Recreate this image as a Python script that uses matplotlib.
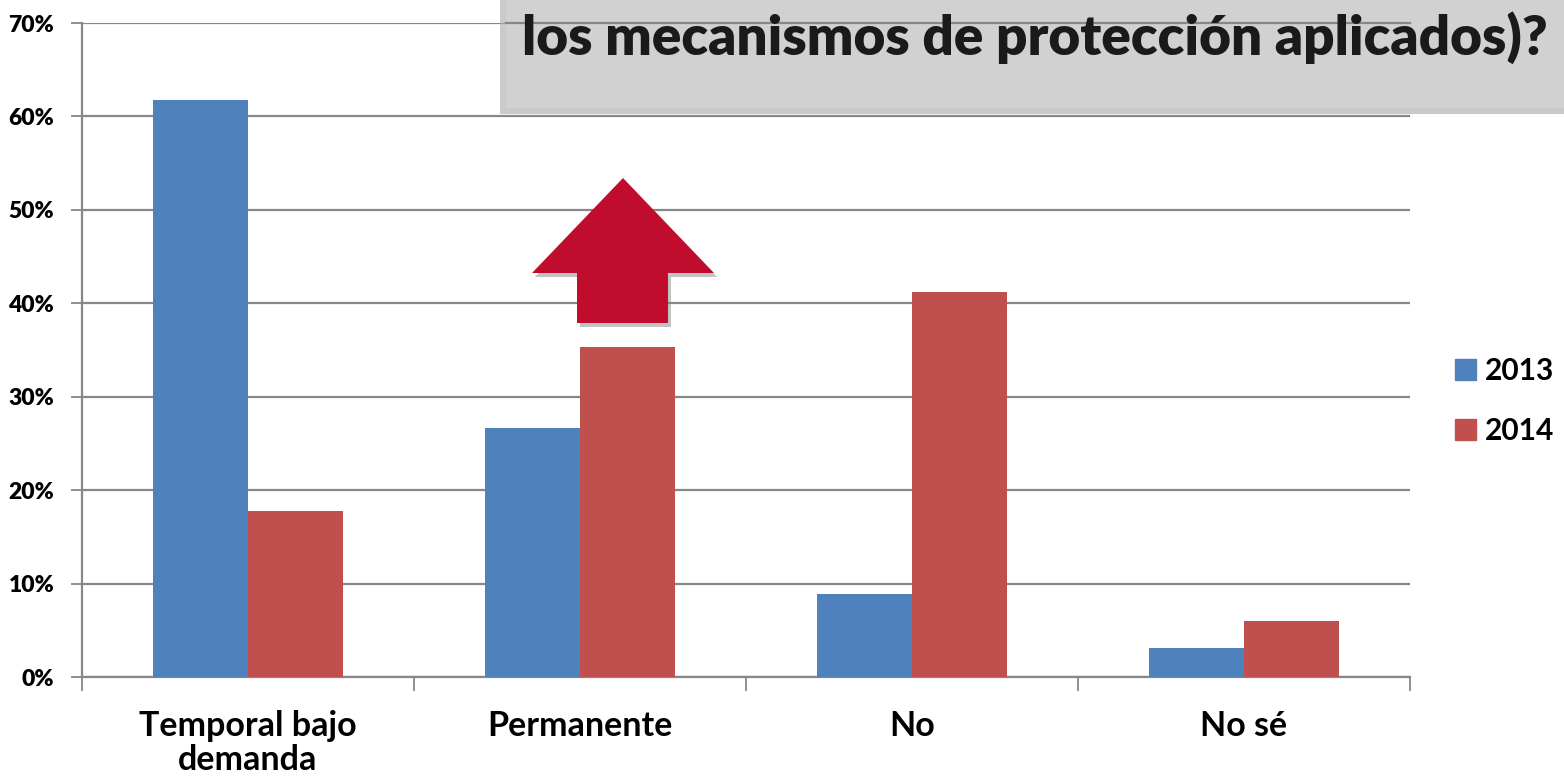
import matplotlib.pyplot as plt
import matplotlib.patches as mpatches
from matplotlib.patches import Polygon, Rectangle
import numpy as np

plt.rcParams["font.family"] = ["Lato", "DejaVu Sans"]
plt.rcParams["font.weight"] = "bold"

categories = ["Temporal bajo\ndemanda", "Permanente", "No", "No sé"]
values_2013 = [61.8, 26.6, 8.9, 3.1]
values_2014 = [17.8, 35.3, 41.2, 6.0]
series_names = ["2013", "2014"]
colors = ["#4f81bd", "#c0504d"]
title_text = "los mecanismos de protección aplicados)?"

W, H = 1564, 782
fig = plt.figure(figsize=(W / 100, H / 100), dpi=100)
ax = fig.add_axes([82 / W, 1 - 677 / H, (1410 - 82) / W, (677 - 23) / H])

x = np.arange(len(categories))
bw = 0.286
ax.bar(x - bw / 2, values_2013, bw, color=colors[0], label=series_names[0], zorder=3)
ax.bar(x + bw / 2, values_2014, bw, color=colors[1], label=series_names[1], zorder=3)

ax.set_xlim(-0.5, len(categories) - 0.5)
ax.set_ylim(0, 70)
ax.set_yticks(range(0, 71, 10))
ax.set_yticklabels([f"{v}%" for v in range(0, 71, 10)], fontsize=16.5, fontweight="heavy")
ax.yaxis.grid(True, color="#878787", linewidth=1.6, zorder=1)
ax.set_axisbelow(True)

# category boundaries as ticks, labels in the middle
ax.set_xticks(np.arange(-0.5, len(categories), 1.0))
ax.set_xticklabels([])
ax.set_xticks(x, minor=True)
ax.set_xticklabels(categories, minor=True, fontsize=24.5, fontweight="bold", linespacing=1.05)
ax.tick_params(axis="x", which="minor", length=0, pad=24)
ax.tick_params(axis="x", which="major", length=10, width=1.3, color="#878787")
ax.tick_params(axis="y", length=8, width=1.3, color="#878787", pad=12)

for s in ["top", "right"]:
    ax.spines[s].set_visible(False)
for s in ["left", "bottom"]:
    ax.spines[s].set_color("#878787")
    ax.spines[s].set_linewidth(1.6)

# legend
handles = [mpatches.Patch(color=c, label=n) for c, n in zip(colors, series_names)]
fig.legend(handles=handles, loc="center left", bbox_to_anchor=(1455 / W, 1 - 401 / H),
           frameon=False, handlelength=0.7, handleheight=0.7, borderpad=0, borderaxespad=0,
           handletextpad=0.3, labelspacing=1.05, prop={"weight": "bold", "size": 21.5})

def px(xp, yp):
    return (xp / W, 1 - yp / H)

# title box with shadow
sh = Rectangle(px(500, 114), (W - 500) / W, 114 / H, transform=fig.transFigure,
               facecolor="#a8a8a8", edgecolor="none", alpha=0.6, zorder=4)
fig.add_artist(sh)
box = Rectangle(px(506, 108), (W - 506) / W, 108 / H, transform=fig.transFigure,
                facecolor="#d1d1d1", edgecolor="none", zorder=5)
fig.add_artist(box)
# gridline at 70% shows over the box
fig.add_artist(plt.Line2D([506 / W, 1410 / W], [1 - 23 / H] * 2, transform=fig.transFigure,
                          color="#878787", linewidth=1.6, zorder=6))
fig.text(1035 / W, 1 - 38 / H, title_text, ha="center", va="center", fontsize=39.5,
         fontweight="heavy", color="#1a1a1a", zorder=7)

# red arrow with shadow
arrow_pts = [(623, 178), (714, 273), (668, 273), (668, 323), (577, 323), (577, 273), (532, 273)]
shadow = Polygon([px(a + 3, b + 4) for a, b in arrow_pts], closed=True, transform=fig.transFigure,
                 facecolor="#888888", edgecolor="none", alpha=0.5, zorder=8)
fig.add_artist(shadow)
arrow = Polygon([px(a, b) for a, b in arrow_pts], closed=True, transform=fig.transFigure,
                facecolor="#c00d2d", edgecolor="none", zorder=9)
fig.add_artist(arrow)

fig.savefig("out.png", dpi=100)
